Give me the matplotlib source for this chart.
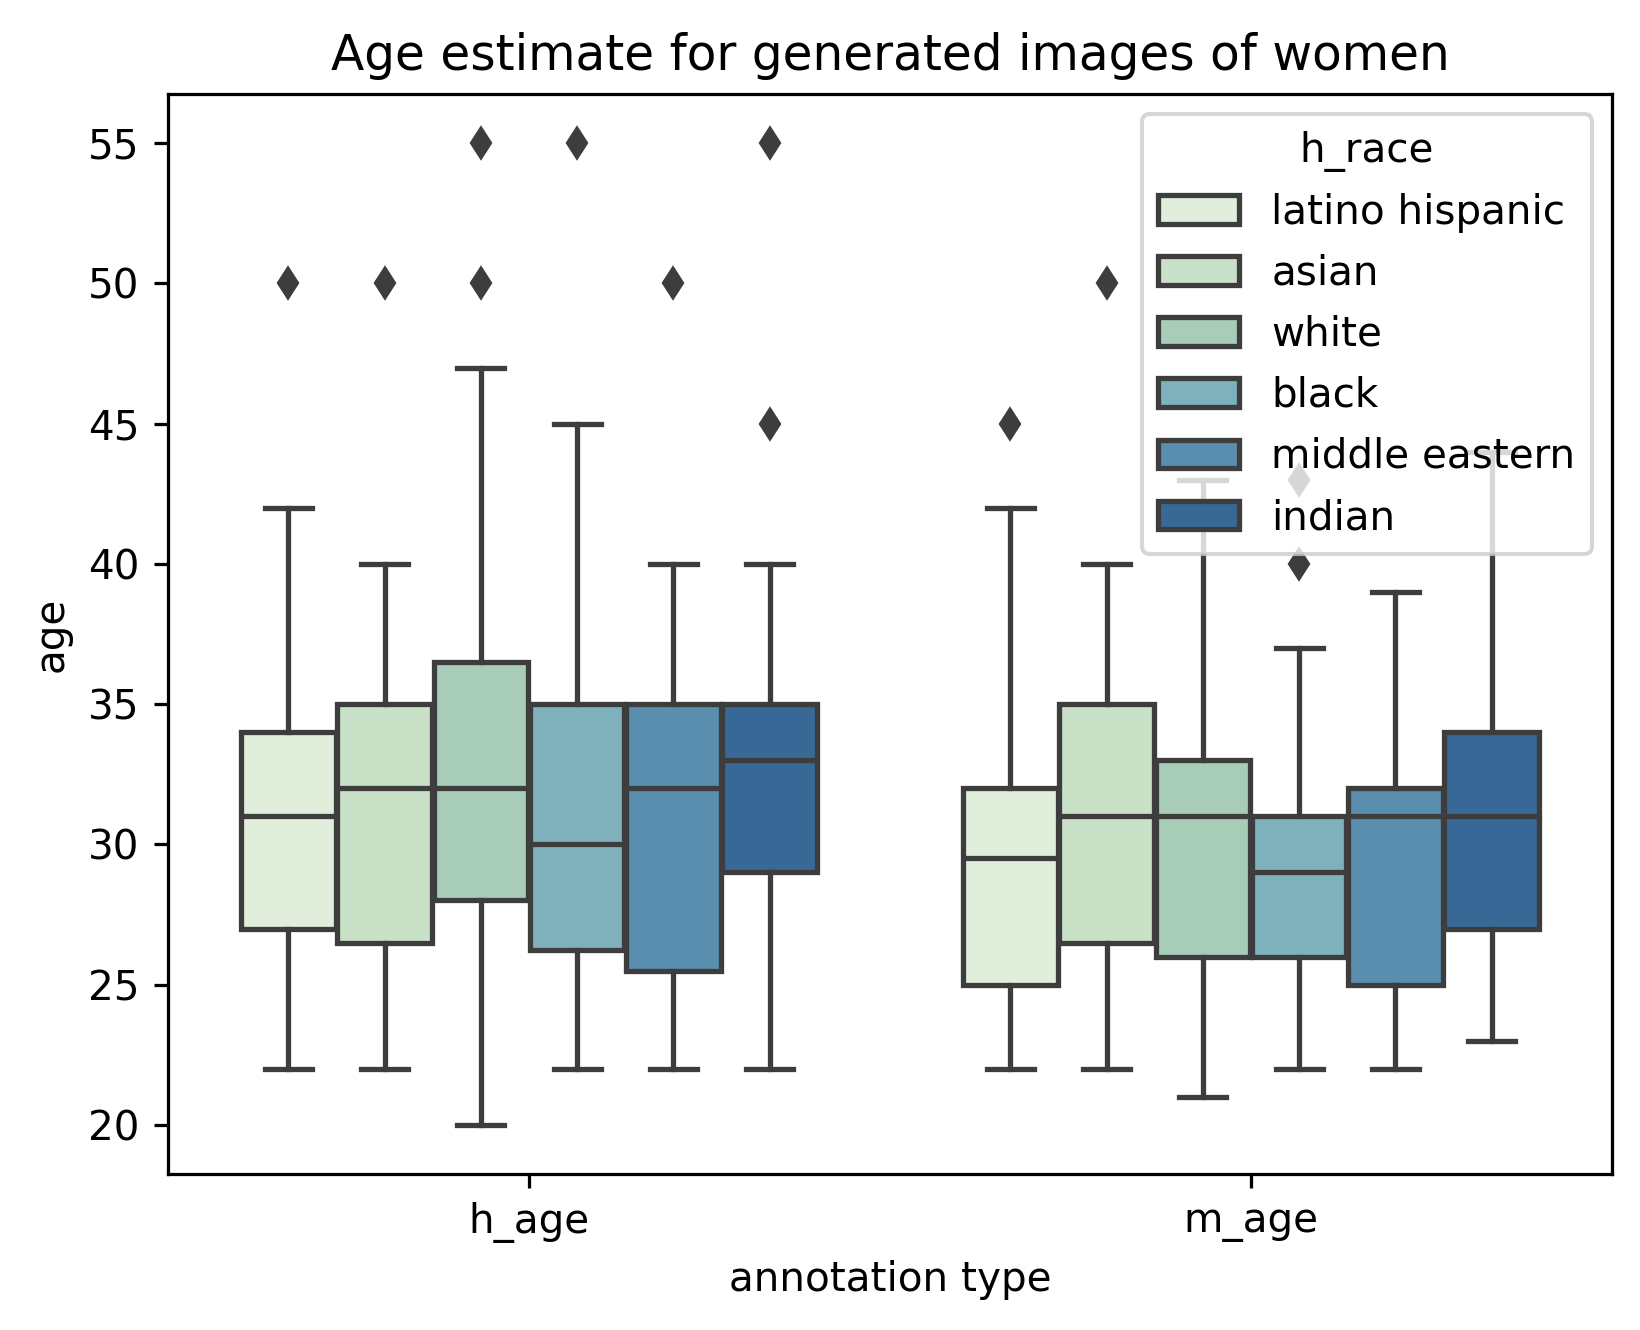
import numpy as np
import matplotlib
matplotlib.use("Agg")
import matplotlib.pyplot as plt
import matplotlib.patches as mpatches

# ---- data ----
groups = ["h_age", "m_age"]
races = ["latino hispanic", "asian", "white", "black", "middle eastern", "indian"]
race_colors = ["#e1eedb", "#c9e1c6", "#a7cdb9", "#7fb1bd", "#5a8eae", "#386895"]

# per group: one value per race
h_q1 = [27, 26.5, 28, 26.25, 25.5, 29]
h_med = [31, 32, 32, 30, 32, 33]
h_q3 = [34, 35, 36.5, 35, 35, 35]
h_wlo = [22, 22, 20, 22, 22, 22]
h_whi = [42, 40, 47, 45, 40, 40]
h_fliers = [[50], [50], [50, 55], [55], [50], [45, 55]]

m_q1 = [25, 26.5, 26, 26, 25, 27]
m_med = [29.5, 31, 31, 29, 31, 31]
m_q3 = [32, 35, 33, 31, 32, 34]
m_wlo = [22, 22, 21, 22, 22, 23]
m_whi = [42, 40, 43, 37, 39, 44]
m_fliers = [[45], [50], [], [40, 43], [], []]

yticks = [20, 25, 30, 35, 40, 45, 50, 55]

# ---- figure ----
DPI = 292
fig = plt.figure(figsize=(1640 / DPI, 1330 / DPI), dpi=DPI)
ax = fig.add_axes([168 / 1640, 1 - 1174 / 1330, 1444 / 1640, (1174 - 94) / 1330])

gray = "#3d3d3d"
lw = 1.3

n = len(races)
width = 0.8
each = width / n
offsets = np.linspace(-width / 2 + each / 2, width / 2 - each / 2, n)

stats_by_group = [
    (h_q1, h_med, h_q3, h_wlo, h_whi, h_fliers),
    (m_q1, m_med, m_q3, m_wlo, m_whi, m_fliers),
]

for gi, (q1, med, q3, wlo, whi, fl) in enumerate(stats_by_group):
    for ri in range(n):
        st = [dict(med=med[ri], q1=q1[ri], q3=q3[ri], whislo=wlo[ri],
                   whishi=whi[ri], fliers=np.array(fl[ri], dtype=float))]
        pos = gi + offsets[ri]
        ax.bxp(st, positions=[pos], widths=each * 0.98, patch_artist=True,
               manage_ticks=False,
               boxprops=dict(facecolor=race_colors[ri], edgecolor=gray, linewidth=lw),
               medianprops=dict(color=gray, linewidth=lw),
               whiskerprops=dict(color=gray, linewidth=lw),
               capprops=dict(color=gray, linewidth=lw),
               flierprops=dict(marker="d", markerfacecolor=gray, markeredgecolor=gray,
                               markersize=5, linestyle="none"))

ax.set_xlim(-0.5, 1.5)
ax.set_ylim(18.25, 56.75)
ax.set_xticks(range(len(groups)))
ax.set_xticklabels(groups)
ax.set_yticks(yticks)
ax.set_xlabel("annotation type")
ax.set_ylabel("age")
ax.set_title("Age estimate for generated images of women", fontsize=12)

handles = [mpatches.Patch(facecolor=race_colors[i], edgecolor=gray, linewidth=lw, label=races[i])
           for i in range(n)]
ax.legend(handles=handles, title="h_race", loc="upper right", labelspacing=0.52)

fig.savefig("out.png", dpi=DPI)
